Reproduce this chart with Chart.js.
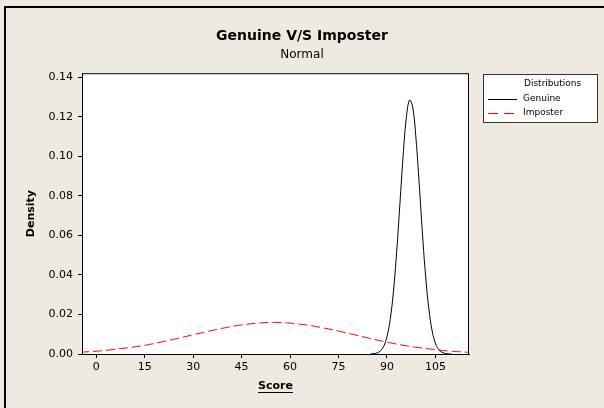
<!DOCTYPE html>
<html>
<head>
<meta charset="utf-8">
<script src="https://cdn.jsdelivr.net/npm/chart.js@4/dist/chart.umd.min.js"></script>
<style>
  html, body { margin: 0; padding: 0; background: #EEEAE0; overflow: hidden; }
  canvas { display: block; }
</style>
</head>
<body>
<canvas id="densityChart" width="604" height="408"></canvas>
<script>
const xTicks = [0, 15, 30, 45, 60, 75, 90, 105];
const yTicks = [0, 0.02, 0.04, 0.06, 0.08, 0.10, 0.12, 0.14];

const imposterScore = [-5, 0, 5, 10, 15, 20, 25, 30, 35, 40, 45, 50, 55, 60, 65, 70, 75, 80, 85, 90, 95, 100, 105, 110, 115];
const imposterDensity = [0.0009, 0.0014, 0.0022, 0.0032, 0.0044, 0.0060, 0.0078, 0.0097, 0.0116, 0.0133, 0.0147, 0.0156, 0.0160,
    0.0156, 0.0147, 0.0133, 0.0116, 0.0097, 0.0078, 0.0060, 0.0044, 0.0032, 0.0022, 0.0014, 0.0009];

// Genuine curve, narrow peak near 97
const genuineScore = [85, 86, 87, 88, 89, 90, 91, 92, 93, 94, 95, 96, 97, 98, 99, 100, 101, 102, 103, 104, 105, 106, 107, 108, 109, 110];
const genuineDensity = [0.0001, 0.0002, 0.0006, 0.0016, 0.0039, 0.0087, 0.0174, 0.0315, 0.0514, 0.0756, 0.1001, 0.1194, 0.1284,
    0.1245, 0.1087, 0.0856, 0.0607, 0.0388, 0.0224, 0.0116, 0.0054, 0.0023, 0.0009, 0.0003, 0.0001, 0.0000];

const font = "'DejaVu Sans', Verdana, sans-serif";

const frame = {
    id: 'frame',
    beforeDraw(chart) {
        const { ctx, chartArea: a } = chart;
        ctx.save();
        ctx.fillStyle = '#EEEAE0';
        ctx.fillRect(0, 0, chart.width, chart.height);
        ctx.strokeStyle = '#000';
        ctx.lineWidth = 2;
        ctx.beginPath();
        ctx.moveTo(5, chart.height + 2);
        ctx.lineTo(5, 7);
        ctx.lineTo(chart.width + 2, 7);
        ctx.stroke();
        ctx.fillStyle = '#fff';
        ctx.fillRect(a.left, a.top, a.right - a.left, a.bottom - a.top);
        ctx.restore();
    },
    afterDraw(chart) {
        const { ctx, chartArea: a } = chart;
        ctx.save();
        ctx.strokeStyle = '#000';
        ctx.lineWidth = 1;
        ctx.strokeRect(a.left + 0.5, a.top + 0.5, a.right - a.left - 1, a.bottom - a.top);

        // underline under the x axis title
        const xs = chart.scales.x;
        ctx.font = 'bold 11px ' + font;
        const w = ctx.measureText('Score').width;
        const cx = (xs.left + xs.right) / 2;
        const uy = 392.5;
        ctx.beginPath();
        ctx.moveTo(cx - w / 2, uy);
        ctx.lineTo(cx + w / 2, uy);
        ctx.stroke();

        // legend box
        ctx.fillStyle = '#fff';
        ctx.fillRect(483, 74, 114, 48);
        ctx.strokeStyle = '#333';
        ctx.strokeRect(483.5, 74.5, 114, 48);
        ctx.fillStyle = '#000';
        ctx.font = '9px ' + font;
        ctx.textBaseline = 'middle';
        ctx.fillText('Distributions', 524, 84);
        chart.data.datasets.forEach((ds, i) => {
            const y = 99 + i * 14;
            ctx.strokeStyle = ds.borderColor;
            ctx.setLineDash(ds.borderDash ? [10, 6] : []);
            ctx.beginPath();
            ctx.moveTo(488, y + 0.5);
            ctx.lineTo(517, y + 0.5);
            ctx.stroke();
            ctx.setLineDash([]);
            ctx.fillText(ds.label, 523, y);
        });
        ctx.restore();
    }
};

new Chart(document.getElementById('densityChart'), {
    type: 'line',
    data: {
        datasets: [
            {
                label: 'Genuine',
                data: genuineScore.map((s, i) => ({ x: s, y: genuineDensity[i] })),
                borderColor: '#000000',
                borderWidth: 1,
                pointRadius: 0,
                tension: 0.4
            },
            {
                label: 'Imposter',
                data: imposterScore.map((s, i) => ({ x: s, y: imposterDensity[i] })),
                borderColor: '#FF0000',
                borderWidth: 1,
                borderDash: [9, 4],
                pointRadius: 0,
                tension: 0.4
            }
        ]
    },
    options: {
        responsive: false,
        animation: false,
        layout: { padding: 0 },
        scales: {
            x: {
                type: 'linear',
                min: -4.4,
                max: 115.4,
                afterBuildTicks: s => { s.ticks = xTicks.map(v => ({ value: v })); },
                afterFit: s => { s.height = 54; },
                grid: { drawOnChartArea: false, tickLength: 4, color: '#000' },
                border: { color: '#000' },
                ticks: { color: '#000', padding: 3, font: { family: font, size: 11 } },
                title: {
                    display: true,
                    text: 'Score',
                    color: '#000',
                    font: { family: font, size: 11, weight: 'bold' },
                    padding: { top: 0, bottom: 15 }
                }
            },
            y: {
                min: 0,
                max: 0.142,
                afterBuildTicks: s => { s.ticks = yTicks.map(v => ({ value: v })); },
                afterFit: s => { s.width = 82; },
                grid: { drawOnChartArea: false, tickLength: 4, color: '#000' },
                border: { color: '#000' },
                ticks: {
                    color: '#000',
                    padding: 5,
                    font: { family: font, size: 11 },
                    callback: v => v.toFixed(2)
                },
                title: {
                    display: true,
                    text: 'Density',
                    color: '#000',
                    font: { family: font, size: 11, weight: 'bold' },
                    padding: { top: 25, bottom: 0 }
                }
            },
            side: {
                position: 'right',
                grid: { display: false },
                border: { display: false },
                ticks: { display: false },
                afterFit: s => { s.width = 135; }
            }
        },
        plugins: {
            legend: { display: false },
            tooltip: { enabled: false },
            title: {
                display: true,
                text: 'Genuine V/S Imposter',
                color: '#000',
                font: { family: font, size: 14, weight: 'bold' },
                padding: { top: 28, bottom: 0 }
            },
            subtitle: {
                display: true,
                text: 'Normal',
                color: '#000',
                font: { family: font, size: 12 },
                padding: { top: 3, bottom: 11 }
            }
        }
    },
    plugins: [frame]
});
</script>
</body>
</html>
